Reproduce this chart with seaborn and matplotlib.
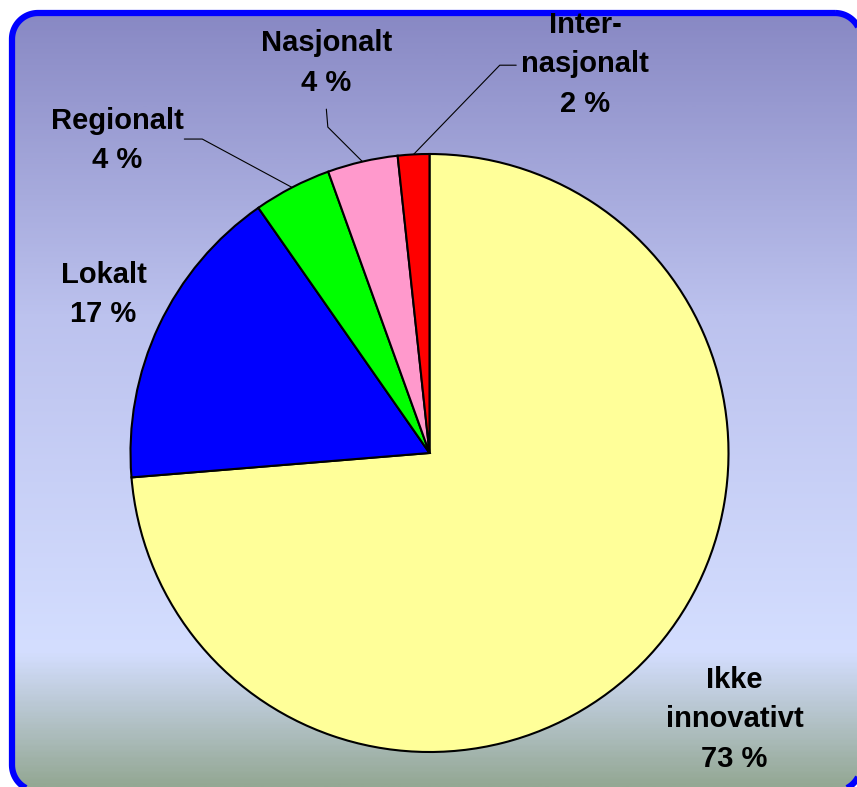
import numpy as np
import matplotlib
matplotlib.use("Agg")
import matplotlib.pyplot as plt
from matplotlib.colors import LinearSegmentedColormap
from matplotlib.patches import Polygon
import seaborn as sns

# Data (share of firms by innovation scope)
labels = ["Ikke\ninnovativt", "Lokalt", "Regionalt", "Nasjonalt", "Inter-\nnasjonalt"]
shares = [73.7, 16.6, 4.2, 3.8, 1.7]          # slice sizes
pct_text = ["73 %", "17 %", "4 %", "4 %", "2 %"]  # printed labels
colors = ["#FFFF99", "#0000FF", "#00FF00", "#FF99CC", "#FF0000"]

sns.set_style("white")
plt.rcParams["font.family"] = ["Liberation Sans", "DejaVu Sans"]

W, H = 857, 787
fig = plt.figure(figsize=(W / 100, H / 100), dpi=100)

# background axes in pixel units (y down)
bg = fig.add_axes([0, 0, 1, 1], zorder=0)
bg.axis("off")
grad_cmap = LinearSegmentedColormap.from_list(
    "bg", [(0.0, "#8686C2"), (0.40, "#BCC2EE"), (0.83, "#D4DEFF"), (1.0, "#94A894")])
grad = np.linspace(0, 1, 400).reshape(-1, 1)
img = bg.imshow(grad, cmap=grad_cmap, aspect="auto", extent=[0, W, H, 0])
bg.set_xlim(0, W)
bg.set_ylim(H, 0)


def rounded_rect(x0, y0, x1, y1, r, n=24):
    pts = []
    corners = [(x1 - r, y0 + r, -90, 0), (x1 - r, y1 - r, 0, 90),
               (x0 + r, y1 - r, 90, 180), (x0 + r, y0 + r, 180, 270)]
    for ccx, ccy, a0, a1 in corners:
        t = np.deg2rad(np.linspace(a0, a1, n))
        pts += list(zip(ccx + r * np.cos(t), ccy + r * np.sin(t)))
    return np.array(pts)


frame = Polygon(rounded_rect(12, 13, 861, 791, 26), closed=True, facecolor="none",
                edgecolor="#0000FF", linewidth=4.5, zorder=3)
bg.add_patch(frame)
img.set_clip_path(frame)

# pie axes: center (429.5, 453) px, radius 299 px
cx, cy, R = 429.5, 453, 299
ax = fig.add_axes([(cx - R) / W, (H - cy - R) / H, 2 * R / W, 2 * R / H], zorder=1)
ax.set_facecolor("none")
wedges, _ = ax.pie(shares, colors=colors, startangle=90, counterclock=False,
                   wedgeprops=dict(edgecolor="black", linewidth=1.5))
ax.set_xlim(-1, 1)
ax.set_ylim(-1, 1)
ax.set_aspect("equal")
ax.axis("off")

# label positions (relative to pie radius) and leader line elbows
label_pos = [(1.02, -0.89), (-1.09, 0.53), (-1.045, 1.045), (-0.345, 1.305), (0.52, 1.3)]
elbows = [None, None, [(-0.82, 1.05), (-0.76, 1.05)], [(-0.345, 1.15), (-0.34, 1.09)],
          [(0.29, 1.297), (0.235, 1.297)]]

tkw = dict(ha="center", va="center", fontsize=21, fontweight="bold", linespacing=1.52,
           color="black", clip_on=False, zorder=5)
for w, lab, txt, pos, elb in zip(wedges, labels, pct_text, label_pos, elbows):
    ax.text(pos[0], pos[1], f"{lab}\n{txt}", **tkw)
    if elb is not None:
        mid = np.deg2rad((w.theta1 + w.theta2) / 2)
        px, py = np.cos(mid), np.sin(mid)
        xs = [elb[0][0], elb[1][0], px]
        ys = [elb[0][1], elb[1][1], py]
        ax.plot(xs, ys, color="black", linewidth=0.8, clip_on=False, zorder=4)

fig.savefig("out.png", dpi=100)
